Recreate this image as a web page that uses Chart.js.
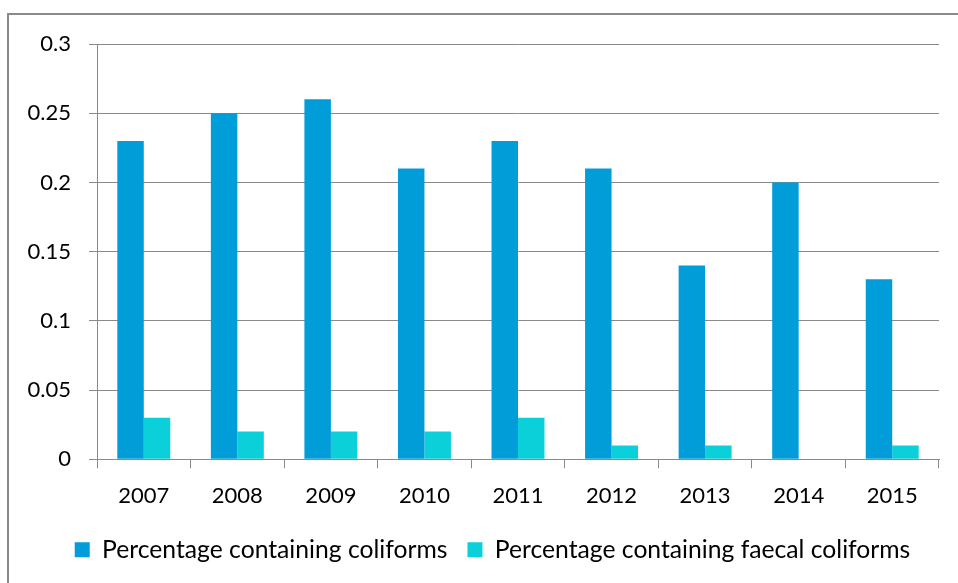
<!DOCTYPE html>
<html>
<head>
<meta charset="utf-8">
<script src="https://cdn.jsdelivr.net/npm/chart.js@4"></script>
<style>
  html, body { margin: 0; padding: 0; background: #fff; }
  #wrap { position: relative; width: 958px; height: 583px; overflow: hidden; }
  #frame { position: absolute; left: 7px; top: 13px; width: 1000px; height: 1000px; border: 2px solid #8a8a8a; box-sizing: border-box; }
  #c { position: absolute; left: 0; top: 0; }
</style>
</head>
<body>
<div id="wrap">
  <div id="frame"></div>
  <canvas id="c" width="958" height="583"></canvas>
</div>
<script>
const years = ['2007', '2008', '2009', '2010', '2011', '2012', '2013', '2014', '2015'];
const coliforms = [0.23, 0.25, 0.26, 0.21, 0.23, 0.21, 0.14, 0.20, 0.13];
const faecalColiforms = [0.03, 0.02, 0.02, 0.02, 0.03, 0.01, 0.01, 0, 0.01];
const yTicks = [0, 0.05, 0.1, 0.15, 0.2, 0.25, 0.3];
const seriesNames = ['Percentage containing coliforms', 'Percentage containing faecal coliforms'];

const FONT = 'Lato, "Open Sans", sans-serif';
const gridColor = '#8a8a8a';

const shiftLegend = {
  id: 'shiftLegend',
  afterLayout(chart) {
    const lg = chart.legend;
    if (lg) { lg.left += 23; lg.right += 23; }
  }
};

new Chart(document.getElementById('c'), {
  type: 'bar',
  data: {
    labels: years,
    datasets: [
      { label: seriesNames[0], data: coliforms, backgroundColor: '#009dd9', borderWidth: 0 },
      { label: seriesNames[1], data: faecalColiforms, backgroundColor: '#0bd0d9', borderWidth: 0 }
    ]
  },
  options: {
    responsive: false,
    animation: false,
    devicePixelRatio: 1,
    categoryPercentage: 0.566,
    barPercentage: 1,
    layout: { padding: { left: 0, right: 19, top: 44, bottom: 11 } },
    scales: {
      x: {
        grid: { offset: true, drawOnChartArea: false, drawTicks: true, tickLength: 9, color: gridColor, lineWidth: 1 },
        border: { display: true, color: gridColor, width: 1 },
        ticks: { color: '#000', font: { family: FONT, size: 22 }, padding: 14, maxRotation: 0 },
        afterFit: (s) => { s.height = 58; }
      },
      y: {
        min: 0, max: 0.3,
        afterBuildTicks: (s) => { s.ticks = yTicks.map(v => ({ value: v })); },
        grid: { color: gridColor, lineWidth: 1, drawTicks: true, tickLength: 8 },
        border: { display: true, color: gridColor, width: 1 },
        ticks: {
          color: '#000', font: { family: FONT, size: 22 }, padding: 18,
          callback: (v) => String(+v.toFixed(2))
        },
        afterFit: (s) => { s.width = 97; }
      }
    },
    plugins: {
      legend: {
        position: 'bottom',
        labels: { boxWidth: 15, boxHeight: 15, padding: 20, color: '#000', font: { family: FONT, size: 24.7 } }
      },
      tooltip: { enabled: false }
    }
  },
  plugins: [shiftLegend]
});
</script>
</body>
</html>
